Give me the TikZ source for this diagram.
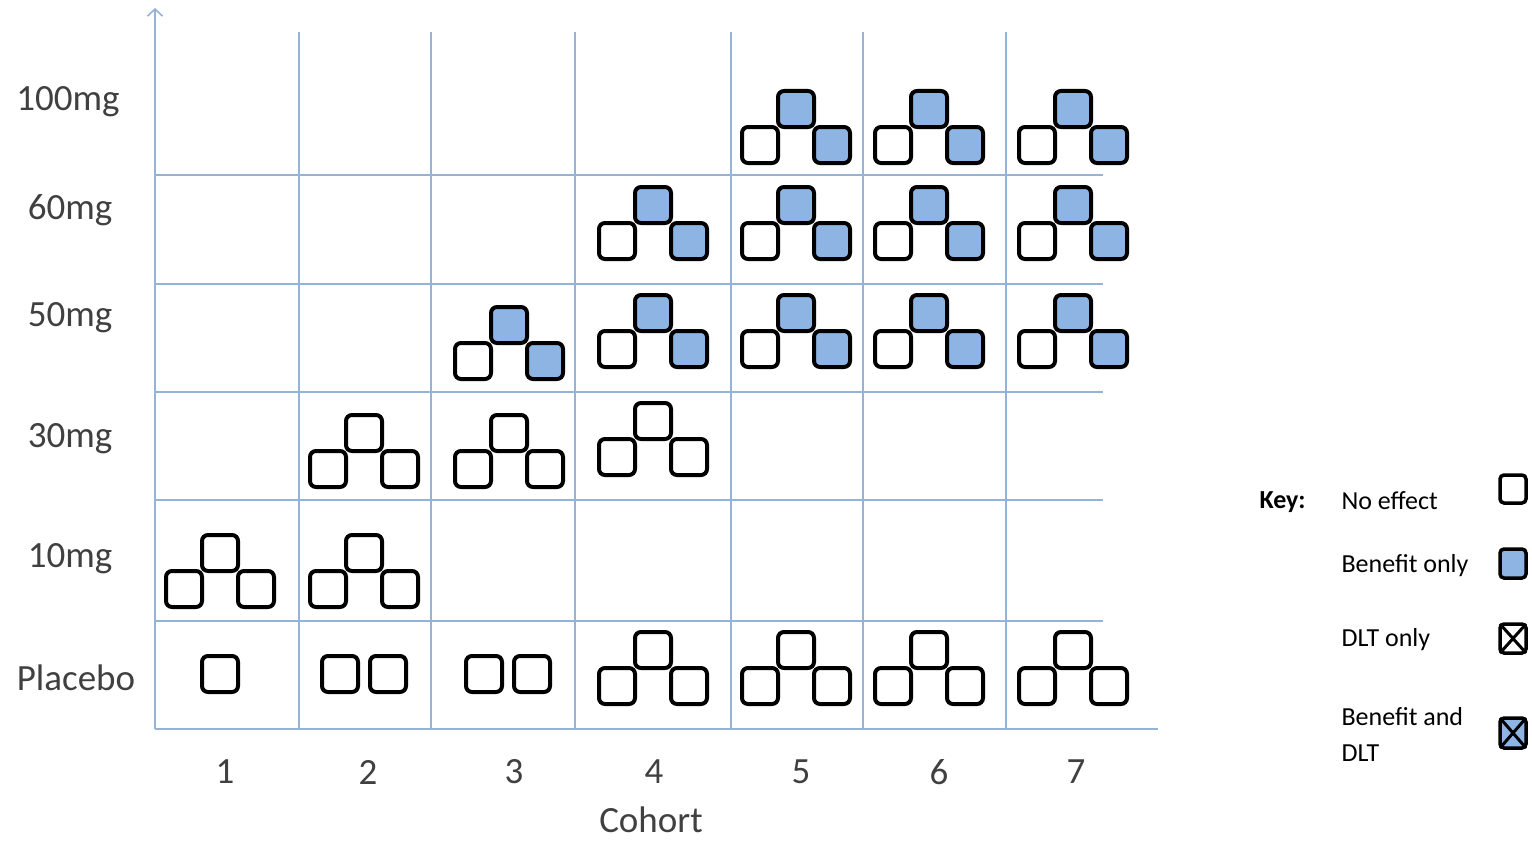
\documentclass[tikz,border=0pt]{standalone}
\usepackage{fontspec}
\setmainfont{Carlito}
\usetikzlibrary{positioning,arrows.meta}

\definecolor{gridblue}{RGB}{149,179,215}
\definecolor{benefit}{RGB}{142,180,227}
\definecolor{labelgray}{RGB}{64,64,64}

% three patients of one cohort: left, top, right
\newcommand{\trio}[3][noeff]{%
  \draw[noeff] (#2-54,#3+36) rectangle (#2-18,#3+72);
  \draw[#1] (#2-18,#3) rectangle (#2+18,#3+36);
  \draw[#1] (#2+18,#3+36) rectangle (#2+54,#3+72);
}

\begin{document}
\begin{tikzpicture}[x=1pt,y=-1pt,
    gridline/.style={gridblue,line width=1.6pt},
    sq/.style={draw=black,line width=4pt,rounded corners=6pt},
    noeff/.style={sq,fill=white},
    ben/.style={sq,fill=benefit},
    keysq/.style={draw=black,line width=3.5pt,rounded corners=4pt},
    axislab/.style={text=labelgray,font=\fontsize{37}{40}\selectfont},
    keylab/.style={text=black,font=\fontsize{26}{36}\selectfont,anchor=west,align=left}]
  \useasboundingbox (0,0) rectangle (1532,859);

  % grid
  \foreach \vx in {299,431,575,731,863,1006}
    \draw[gridline] (\vx,32) -- (\vx,729);
  \foreach \hy in {175,284,392,500,621}
    \draw[gridline] (155,\hy) -- (1103,\hy);
  \draw[gridline,-{Straight Barb[length=7pt,width=15pt,line width=1.6pt]}] (155,729) -- (155,8);
  \draw[gridline] (155,729) -- (1158,729);

  % dose labels
  \node[axislab] (d100) at (68,102) {100mg};
  \node[axislab] (d60) at (70,210) {60mg};
  \node[axislab] (d50) at (70,318) {50mg};
  \node[axislab] (d30) at (70,439) {30mg};
  \node[axislab] (d10) at (70,559) {10mg};
  \node[axislab] (dpl) at (76,678) {Placebo};

  % cohorts
  \foreach \n/\cx in {1/225,2/368,3/514,4/654,5/801,6/939,7/1076}
    \node[axislab] (coh\n) at (\cx,772) {\n};
  \node[axislab] (cohort) at (651,820) {Cohort};

  % placebo
  \draw[noeff] (202,656) rectangle (238,692);
  \draw[noeff] (322,656) rectangle (358,692);
  \draw[noeff] (370,656) rectangle (406,692);
  \draw[noeff] (466,656) rectangle (502,692);
  \draw[noeff] (514,656) rectangle (550,692);
  \foreach \cx in {653,796,929,1073}
    {\trio{\cx}{632}}

  % 10mg and 30mg
  \trio{220}{535}
  \trio{364}{535}
  \trio{364}{415}
  \trio{509}{415}
  \trio{653}{403}

  % 50mg, 60mg, 100mg
  \trio[ben]{509}{307}
  \foreach \cx in {653,796,929,1073}
    {\trio[ben]{\cx}{295}}
  \foreach \cx in {653,796,929,1073}
    {\trio[ben]{\cx}{187}}
  \foreach \cx in {796,929,1073}
    {\trio[ben]{\cx}{91}}

  % key
  \node[keylab,font=\fontsize{26}{36}\selectfont\bfseries] (key) at (1256,502) {Key:};
  \node[keylab] (knone) at (1338,501) {No effect};
  \node[keylab] (kben) at (1338,566) {Benefit only};
  \node[keylab] (kdlt) at (1338,640) {DLT only};
  \node[keylab] (kboth) at (1338,734) {Benefit and\\DLT};
  \draw[keysq,fill=white] (1500,475) rectangle (1526,503);
  \draw[keysq,fill=benefit] (1500,549) rectangle (1526,578);
  \draw[keysq,fill=white] (1500,624) rectangle (1526,653);
  \draw[black,line width=3pt] (1500,624) -- (1526,653) (1500,653) -- (1526,624);
  \draw[keysq,fill=benefit] (1500,718) rectangle (1526,748);
  \draw[black,line width=3pt] (1500,718) -- (1526,748) (1500,748) -- (1526,718);
\end{tikzpicture}
\end{document}
